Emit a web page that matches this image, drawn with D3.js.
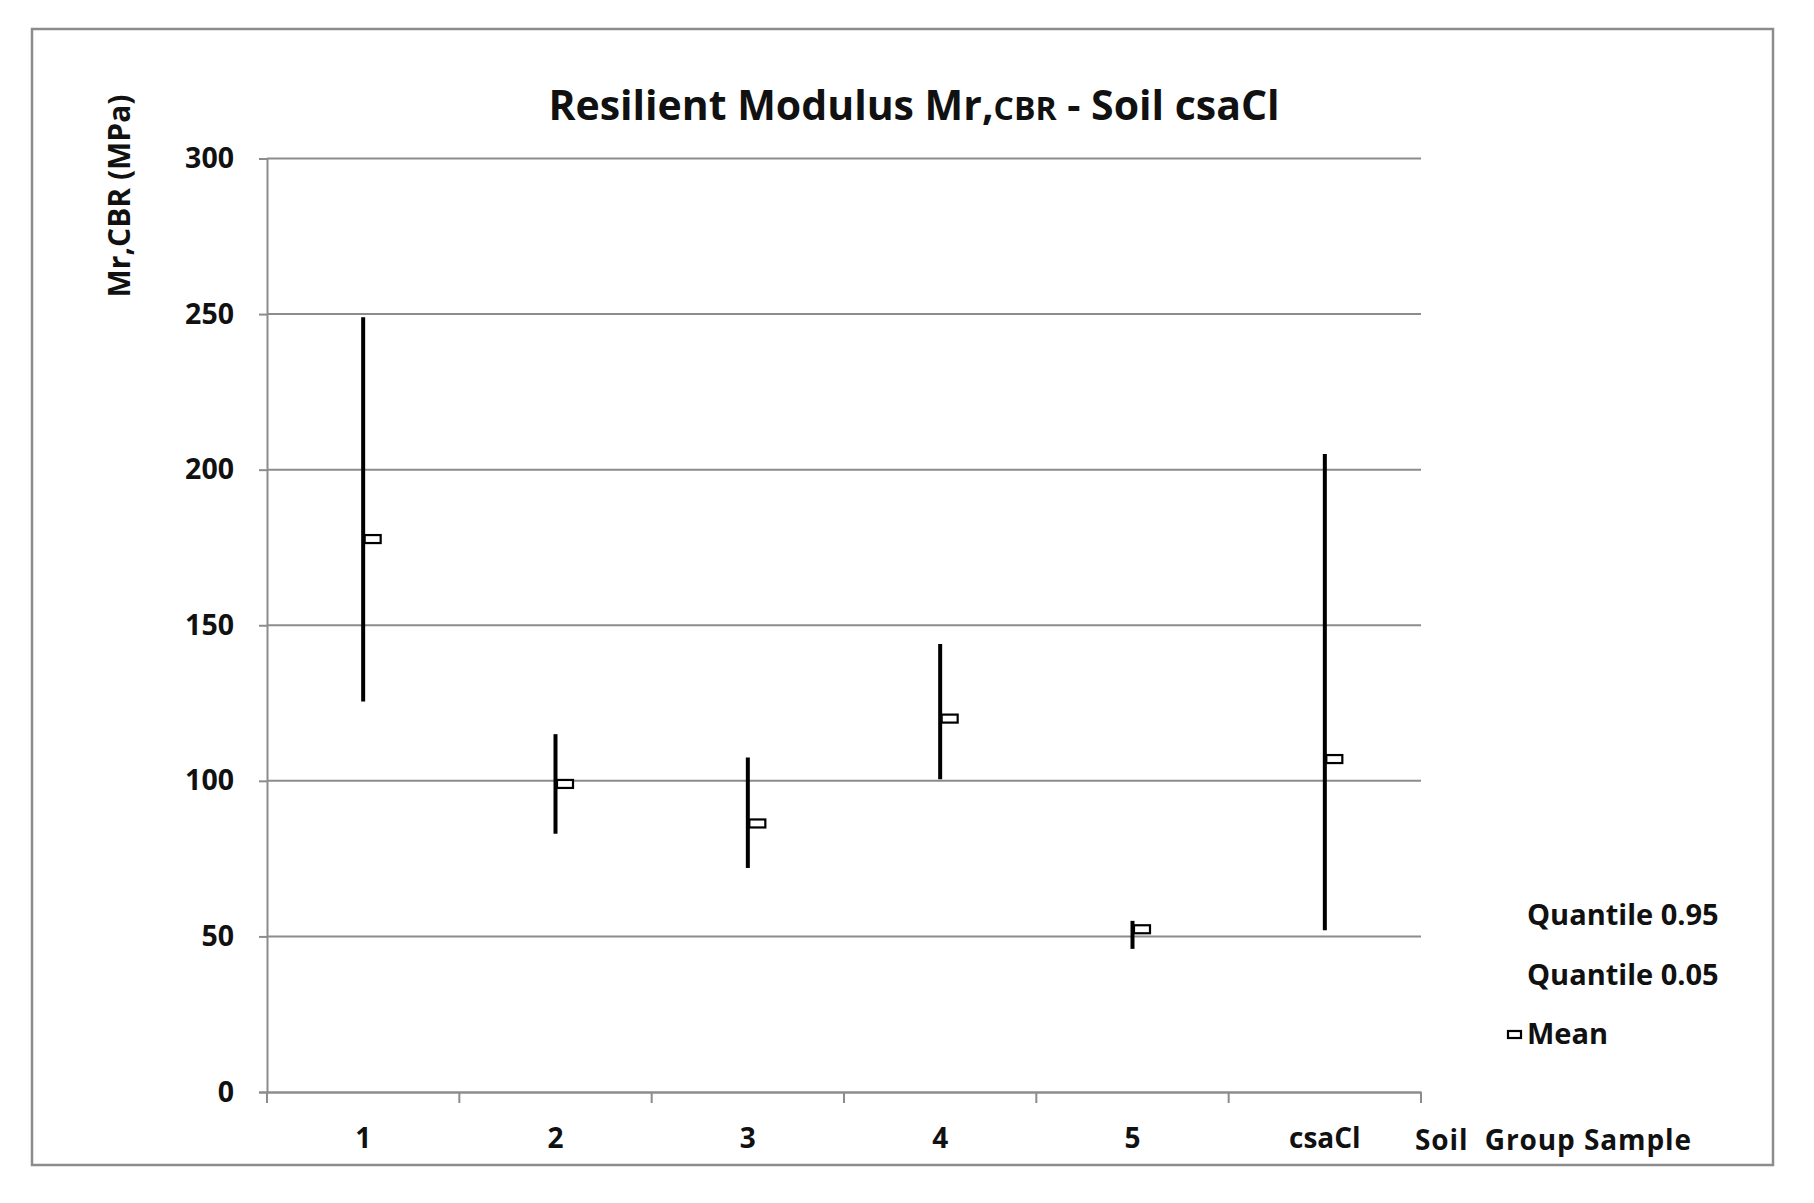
<!DOCTYPE html>
<html><head><meta charset="utf-8">
<script src="https://cdn.jsdelivr.net/npm/d3@7"></script>
<style>body{margin:0;background:#fff}</style>
</head><body>
<script>
const categories = ["1","2","3","4","5","csaCl"];
const q95 = [249, 115, 107.5, 144, 55, 205];
const q05 = [125.5, 83, 72, 100.5, 46, 52];
const means = [177.7, 99, 86.3, 120, 52.3, 107];
const yTicks = [0,50,100,150,200,250,300];

const W=1814,H=1203;
const FONT="'Open Sans', 'Noto Sans', sans-serif";
const svg=d3.select("body").append("svg").attr("width",W).attr("height",H);
svg.append("rect").attr("x",0).attr("y",0).attr("width",W).attr("height",H).attr("fill","#fff");
svg.append("rect").attr("x",32).attr("y",29).attr("width",1741).attr("height",1136)
  .attr("fill","#fff").attr("stroke","#8c8c8c").attr("stroke-width",2.5);

const L=267,R=1421,T=158.5,B=1092;
const x=d3.scaleBand().domain(categories).range([L,R]);
const y=d3.scaleLinear().domain([0,300]).range([B,T]);

// gridlines
svg.append("g").selectAll("line").data(yTicks.filter(d=>d>0)).join("line")
  .attr("x1",L).attr("x2",R).attr("y1",d=>y(d)).attr("y2",d=>y(d))
  .attr("stroke","#8c8c8c").attr("stroke-width",2);

// y axis
const ya=svg.append("g").attr("transform",`translate(${L},0)`)
  .call(d3.axisLeft(y).tickValues(yTicks).tickSize(8).tickPadding(25));
ya.select(".domain").attr("stroke","#8c8c8c").attr("stroke-width",2);
ya.selectAll(".tick line").attr("stroke","#8c8c8c").attr("stroke-width",2);
ya.selectAll("text").attr("font-family",FONT).attr("font-weight","700").attr("font-size",28.5).attr("fill","#111");

// x axis
const xa=svg.append("g").attr("transform",`translate(0,${B})`)
  .call(d3.axisBottom(x).tickSize(0).tickPadding(36));
xa.select(".domain").attr("stroke","#8c8c8c").attr("stroke-width",2.5);
xa.selectAll("text").attr("font-family",FONT).attr("font-weight","700").attr("font-size",28).attr("fill","#111");
// x tick marks at band boundaries
const bounds=categories.map(c=>x(c)).concat([R]);
svg.append("g").selectAll("line").data(bounds).join("line")
  .attr("x1",d=>d).attr("x2",d=>d).attr("y1",B).attr("y2",B+11)
  .attr("stroke","#8c8c8c").attr("stroke-width",2);

svg.append("text").attr("x",1415).attr("y",B+58).attr("font-family",FONT).attr("font-weight","700")
  .attr("font-size",28).attr("fill","#111").attr("xml:space","preserve")
  .attr("textLength",276).attr("lengthAdjust","spacing").text("Soil  Group Sample");

// error bars
const cx=c=>x(c)+x.bandwidth()/2;
svg.append("g").selectAll("line").data(categories).join("line")
  .attr("x1",cx).attr("x2",cx).attr("y1",(c,i)=>y(q95[i])).attr("y2",(c,i)=>y(q05[i]))
  .attr("stroke","#000").attr("stroke-width",4);
svg.append("g").selectAll("rect").data(categories).join("rect")
  .attr("x",c=>cx(c)+1.5).attr("y",(c,i)=>y(means[i])-4).attr("width",16).attr("height",8)
  .attr("fill","#fff").attr("stroke","#000").attr("stroke-width",2.2);

// title
const title=svg.append("text").attr("x",914).attr("y",120).attr("text-anchor","middle")
  .attr("font-family",FONT).attr("font-weight","700").attr("font-size",41).attr("fill","#111");
title.append("tspan").text("Resilient Modulus Mr,");
title.append("tspan").attr("font-size",32).text("CBR");
title.append("tspan").text(" - Soil csaCl");

// y label
svg.append("text").attr("transform","translate(130,196) rotate(-90)").attr("text-anchor","middle")
  .attr("font-family",FONT).attr("font-weight","700").attr("font-size",30).attr("fill","#111")
  .text("Mr,CBR (MPa)");

// legend
const legend=[{t:"Quantile 0.95",m:false},{t:"Quantile 0.05",m:false},{t:"Mean",m:true}];
const lg=svg.append("g").selectAll("g").data(legend).join("g")
  .attr("transform",(d,i)=>`translate(1527,${915+i*59.5})`);
lg.append("text").attr("y",10).attr("font-family",FONT).attr("font-weight","700").attr("font-size",29)
  .attr("fill","#111").text(d=>d.t);
lg.filter(d=>d.m).append("rect").attr("x",-19).attr("y",-3).attr("width",13).attr("height",7)
  .attr("fill","#fff").attr("stroke","#000").attr("stroke-width",2.2);
</script>
</body></html>
